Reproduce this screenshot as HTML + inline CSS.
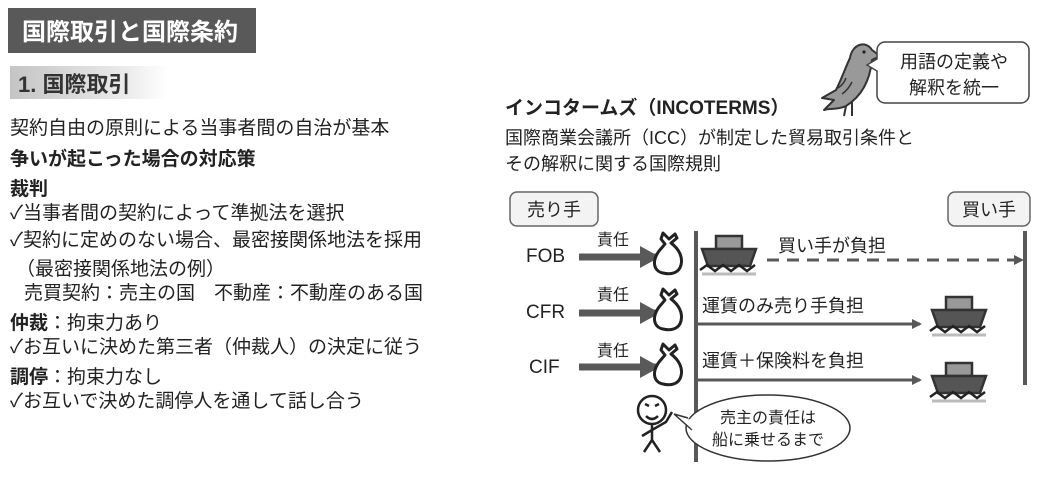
<!DOCTYPE html>
<html><head><meta charset="utf-8"><style>
html,body{margin:0;padding:0;background:#fff;}
svg{display:block;font-family:"Liberation Sans","Noto Sans CJK JP",sans-serif;}
</style></head><body>
<svg width="1047" height="479" viewBox="0 0 1047 479" xmlns="http://www.w3.org/2000/svg">
<defs>
<linearGradient id="g" x1="0" x2="1"><stop offset="0" stop-color="#c4c4c4"/><stop offset="0.75" stop-color="#ececec"/><stop offset="1" stop-color="#fff"/></linearGradient>
<marker id="ah" markerWidth="10" markerHeight="10" refX="8" refY="5" orient="auto" markerUnits="userSpaceOnUse"><path d="M0,0 L10,5 L0,10 z" fill="#595959"/></marker>
<marker id="ahb" markerWidth="20" markerHeight="22" refX="18" refY="11" orient="auto" markerUnits="userSpaceOnUse"><path d="M0,0 L20,11 L0,22 z" fill="#595959"/></marker>
<g id="bag"><path d="M8,0 l6,6 l6,-5 l2,4 l-6,5 c8,6 12,14 10,22 c-2,8 -10,10 -18,8 c-6,-1 -10,-6 -8,-14 c2,-7 6,-10 10,-15 l-4,-5 z" fill="#fff" stroke="#222" stroke-width="3" stroke-linejoin="round"/></g>
<g id="ship"><rect x="16" y="0" width="26" height="13" fill="#999" stroke="#333" stroke-width="2.5"/><path d="M2,13 L56,13 L50,30 L8,30 z" fill="#555" stroke="#333" stroke-width="2.5"/><path d="M0,34 l7,-5 l8,6 l8,-6 l8,6 l8,-6 l8,6 l8,-6" fill="none" stroke="#222" stroke-width="2.5"/><path d="M2,38 h54" stroke="#bbb" stroke-width="3"/></g>
</defs>

<rect x="8" y="8" width="248" height="45" fill="#595959"/>
<text x="22" y="40" font-size="24" font-weight="bold" fill="#fff">国際取引と国際条約</text>
<rect x="10" y="66" width="158" height="33" fill="url(#g)"/>
<text x="18" y="92" font-size="22" font-weight="bold" fill="#333">1. 国際取引</text>

<g font-size="19" fill="#222">
<text x="10" y="134">契約自由の原則による当事者間の自治が基本</text>
<text x="10" y="165" font-weight="bold">争いが起こった場合の対応策</text>
<text x="10" y="195" font-weight="bold">裁判</text>
<text x="10" y="219">✓当事者間の契約によって準拠法を選択</text>
<text x="10" y="246">✓契約に定めのない場合、最密接関係地法を採用</text>
<text x="16" y="275">（最密接関係地法の例）</text>
<text x="24" y="299">売買契約：売主の国　不動産：不動産のある国</text>
<text x="10" y="329"><tspan font-weight="bold">仲裁</tspan>：拘束力あり</text>
<text x="10" y="353">✓お互いに決めた第三者（仲裁人）の決定に従う</text>
<text x="10" y="383"><tspan font-weight="bold">調停</tspan>：拘束力なし</text>
<text x="10" y="407">✓お互いで決めた調停人を通して話し合う</text>
</g>

<text x="505" y="114" font-size="19" font-weight="bold" fill="#222">インコタームズ（INCOTERMS）</text>
<text x="505" y="144" font-size="18" fill="#222">国際商業会議所（ICC）が制定した貿易取引条件と</text>
<text x="505" y="170" font-size="18" fill="#222">その解釈に関する国際規則</text>

<!-- bird (faces right) -->
<path d="M850,58 C852,44 866,40 872,50 L880,56 L872,60 C870,80 862,96 846,106 C838,110 830,108 824,110 L834,100 L822,98 L836,90 C842,78 846,66 850,58 z" fill="#999" stroke="#333" stroke-width="2" stroke-linejoin="round"/>
<path d="M842,94 q6,-4 10,-12 M838,88 q6,-4 8,-10" fill="none" stroke="#333" stroke-width="1.5"/>
<path d="M846,106 l-2,10 M852,102 l0,14" stroke="#333" stroke-width="2"/>
<circle cx="864" cy="52" r="1.6" fill="#222"/>
<!-- bird bubble -->
<path d="M885,42 h136 a8,8 0 0 1 8,8 v45 a8,8 0 0 1 -8,8 h-136 a8,8 0 0 1 -8,-8 v-24 l-10,-6 l10,-6 v-9 a8,8 0 0 1 8,-8 z" fill="#fff" stroke="#444" stroke-width="1.5"/>
<text x="954" y="68" font-size="18" text-anchor="middle" fill="#222">用語の定義や</text>
<text x="954" y="94" font-size="18" text-anchor="middle" fill="#222">解釈を統一</text>

<!-- parties -->
<rect x="510" y="192" width="88" height="34" rx="7" fill="#f3f3f3" stroke="#666" stroke-width="1.5"/>
<text x="554" y="216" font-size="18" text-anchor="middle" fill="#222">売り手</text>
<rect x="948" y="192" width="82" height="34" rx="7" fill="#f3f3f3" stroke="#666" stroke-width="1.5"/>
<text x="989" y="216" font-size="18" text-anchor="middle" fill="#222">買い手</text>

<line x1="696" y1="231" x2="696" y2="462" stroke="#595959" stroke-width="4"/>
<line x1="1025" y1="231" x2="1025" y2="385" stroke="#595959" stroke-width="4"/>

<g font-size="19" fill="#222">
<text x="526" y="262">FOB</text>
<text x="526" y="318">CFR</text>
<text x="529" y="373">CIF</text>
</g>
<g font-size="16" fill="#222">
<text x="597" y="245">責任</text>
<text x="597" y="300">責任</text>
<text x="597" y="356">責任</text>
</g>
<g stroke="#595959" stroke-width="7">
<line x1="579" y1="257" x2="658" y2="257" marker-end="url(#ahb)"/>
<line x1="579" y1="313" x2="658" y2="313" marker-end="url(#ahb)"/>
<line x1="579" y1="367" x2="658" y2="367" marker-end="url(#ahb)"/>
</g>
<use href="#bag" x="655" y="233"/>
<use href="#bag" x="655" y="289"/>
<use href="#bag" x="655" y="344"/>

<use href="#ship" x="700" y="236"/>
<line x1="767" y1="260" x2="1022" y2="260" stroke="#595959" stroke-width="3" stroke-dasharray="12,8" marker-end="url(#ah)"/>
<text x="778" y="252" font-size="18" fill="#222">買い手が負担</text>

<line x1="698" y1="324" x2="920" y2="324" stroke="#595959" stroke-width="3" marker-end="url(#ah)"/>
<text x="702" y="312" font-size="18" fill="#222">運賃のみ売り手負担</text>
<use href="#ship" x="930" y="297"/>

<line x1="698" y1="380" x2="920" y2="380" stroke="#595959" stroke-width="3" marker-end="url(#ah)"/>
<text x="702" y="367" font-size="18" fill="#222">運賃＋保険料を負担</text>
<use href="#ship" x="930" y="363"/>

<!-- stick figure -->
<g fill="none" stroke="#222" stroke-width="2.5">
<circle cx="652" cy="410" r="14"/>
<path d="M652,424 v16 M652,440 l-8,12 M652,440 l8,12 M652,430 l-10,6 M652,430 l14,-8 l6,-10"/>
<path d="M646,416 q6,6 12,0"/>
<path d="M645,404 l4,2 M659,404 l-4,2"/>
</g>
<ellipse cx="768" cy="428" rx="82" ry="33" fill="#fff" stroke="#333" stroke-width="1.5"/>
<path d="M688,418 l-14,-4 l18,16" fill="#fff" stroke="#333" stroke-width="1.5"/>
<path d="M690,419 l3,10" stroke="#fff" stroke-width="3"/>
<text x="768" y="423" font-size="16" text-anchor="middle" fill="#222">売主の責任は</text>
<text x="768" y="445" font-size="16" text-anchor="middle" fill="#222">船に乗せるまで</text>
</svg>
</body></html>
